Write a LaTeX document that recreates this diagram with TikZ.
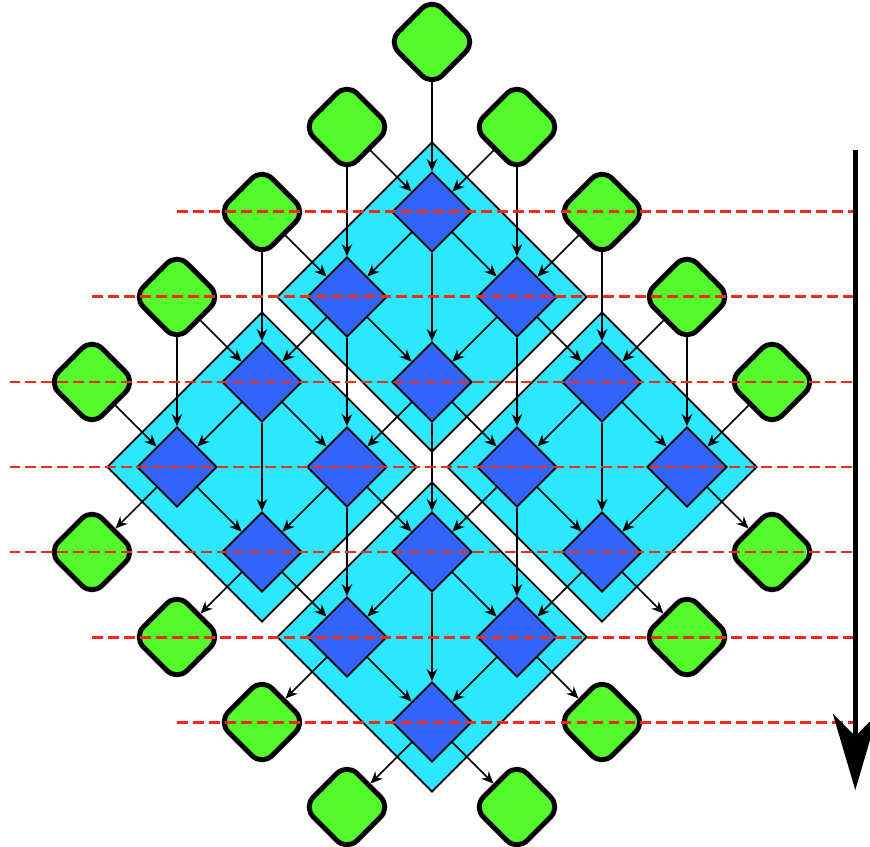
\documentclass[tikz,border=0pt]{standalone}
\usepackage{xcolor}
\usepackage{tikz}
\usetikzlibrary{arrows.meta,backgrounds,shapes.geometric}
\pgfdeclarelayer{edges}
\pgfdeclarelayer{front}
\pgfsetlayers{background,edges,main,front}
\definecolor{tilecyan}{RGB}{45,230,255}
\definecolor{cellblue}{RGB}{50,100,250}
\definecolor{iogreen}{RGB}{85,250,45}
\definecolor{wavered}{RGB}{235,45,25}
\tikzset{
  tilebox/.style   = {diamond, minimum size=7.29cm, inner sep=0pt,
                      draw=black, line width=1.2pt, fill=tilecyan},
  pcell/.style     = {diamond, minimum size=1.88cm, inner sep=0pt,
                      draw=black, line width=1.2pt, fill=cellblue},
  iobox/.style     = {rectangle, rotate=45, minimum size=1.45cm, inner sep=0pt,
                      rounded corners=0.33cm, draw=black, line width=3.3pt,
                      fill=iogreen},
  dep/.style       = {-{Stealth[length=8pt,width=7pt]}, line width=1.1pt},
  wavefront/.style = {wavered, line width=2pt, dash pattern=on 7.3pt off 3.4pt},
  timearrow/.style = {-{Stealth[length=51pt,width=30pt,inset=15pt]},
                      line width=3.3pt},
}

\begin{document}
\begin{tikzpicture}[x=2cm, y=2cm]
\useasboundingbox (-5.082,2.494) rectangle (5.153,-7.459);
% tiles
\begin{scope}[on background layer]
\node[tilebox] (tt) at (0,-1) {};
\node[tilebox] (tl) at (-2,-3) {};
\node[tilebox] (tr) at (2,-3) {};
\node[tilebox] (tb) at (0,-5) {};
\end{scope}
% cells
\node[pcell] (p00) at (0,0) {};
\node[pcell] (p10) at (1,-1) {};
\node[pcell] (p20) at (2,-2) {};
\node[pcell] (p30) at (3,-3) {};
\node[pcell] (p01) at (-1,-1) {};
\node[pcell] (p11) at (0,-2) {};
\node[pcell] (p21) at (1,-3) {};
\node[pcell] (p31) at (2,-4) {};
\node[pcell] (p02) at (-2,-2) {};
\node[pcell] (p12) at (-1,-3) {};
\node[pcell] (p22) at (0,-4) {};
\node[pcell] (p32) at (1,-5) {};
\node[pcell] (p03) at (-3,-3) {};
\node[pcell] (p13) at (-2,-4) {};
\node[pcell] (p23) at (-1,-5) {};
\node[pcell] (p33) at (0,-6) {};
% inputs
\node[iobox] (c) at (0,2) {};
\node[iobox] (l0) at (-1,1) {};
\node[iobox] (l1) at (-2,0) {};
\node[iobox] (l2) at (-3,-1) {};
\node[iobox] (l3) at (-4,-2) {};
\node[iobox] (r0) at (1,1) {};
\node[iobox] (r1) at (2,0) {};
\node[iobox] (r2) at (3,-1) {};
\node[iobox] (r3) at (4,-2) {};
% outputs
\node[iobox] (o0) at (4,-4) {};
\node[iobox] (o1) at (3,-5) {};
\node[iobox] (o2) at (2,-6) {};
\node[iobox] (o3) at (1,-7) {};
\node[iobox] (q0) at (-4,-4) {};
\node[iobox] (q1) at (-3,-5) {};
\node[iobox] (q2) at (-2,-6) {};
\node[iobox] (q3) at (-1,-7) {};
\begin{pgfonlayer}{edges}
\draw[dep] (c.center) -- (p00);
\draw[dep] (l0) -- (p00);
\draw[dep] (l0.center) -- (p01);
\draw[dep] (l1) -- (p01);
\draw[dep] (l1.center) -- (p02);
\draw[dep] (l2) -- (p02);
\draw[dep] (l2.center) -- (p03);
\draw[dep] (l3) -- (p03);
\draw[dep] (r0) -- (p00);
\draw[dep] (r0.center) -- (p10);
\draw[dep] (r1) -- (p10);
\draw[dep] (r1.center) -- (p20);
\draw[dep] (r2) -- (p20);
\draw[dep] (r2.center) -- (p30);
\draw[dep] (r3) -- (p30);
% down right
\draw[dep] (p00) -- (p10);
\draw[dep] (p10) -- (p20);
\draw[dep] (p20) -- (p30);
\draw[dep] (p01) -- (p11);
\draw[dep] (p11) -- (p21);
\draw[dep] (p21) -- (p31);
\draw[dep] (p02) -- (p12);
\draw[dep] (p12) -- (p22);
\draw[dep] (p22) -- (p32);
\draw[dep] (p03) -- (p13);
\draw[dep] (p13) -- (p23);
\draw[dep] (p23) -- (p33);
% down left
\draw[dep] (p00) -- (p01);
\draw[dep] (p01) -- (p02);
\draw[dep] (p02) -- (p03);
\draw[dep] (p10) -- (p11);
\draw[dep] (p11) -- (p12);
\draw[dep] (p12) -- (p13);
\draw[dep] (p20) -- (p21);
\draw[dep] (p21) -- (p22);
\draw[dep] (p22) -- (p23);
\draw[dep] (p30) -- (p31);
\draw[dep] (p31) -- (p32);
\draw[dep] (p32) -- (p33);
% straight down
\draw[dep] (p00) -- (p11);
\draw[dep] (p01) -- (p12);
\draw[dep] (p02) -- (p13);
\draw[dep] (p10) -- (p21);
\draw[dep] (p11) -- (p22);
\draw[dep] (p12) -- (p23);
\draw[dep] (p20) -- (p31);
\draw[dep] (p21) -- (p32);
\draw[dep] (p22) -- (p33);
% out
\draw[dep] (p30) -- (o0);
\draw[dep] (p31) -- (o1);
\draw[dep] (p32) -- (o2);
\draw[dep] (p33) -- (o3);
\draw[dep] (p03) -- (q0);
\draw[dep] (p13) -- (q1);
\draw[dep] (p23) -- (q2);
\draw[dep] (p33) -- (q3);
\end{pgfonlayer}
% wavefronts and time
\begin{pgfonlayer}{front}
\coordinate (tstart) at (4.98,0.73);
\coordinate (tend) at (4.98,-6.8);
\draw[wavefront] (-3,0) -- (tstart|-0,0);
\draw[wavefront] (-4,-1) -- (tstart|-0,-1);
\draw[wavefront] (-4.97,-2) -- (tstart|-0,-2);
\draw[wavefront] (-4.97,-3) -- (tstart|-0,-3);
\draw[wavefront] (-4.97,-4) -- (tstart|-0,-4);
\draw[wavefront] (-4,-5) -- (tstart|-0,-5);
\draw[wavefront] (-3,-6) -- (tstart|-0,-6);
\draw[timearrow] (tstart) -- (tend);
\end{pgfonlayer}
\end{tikzpicture}
\end{document}
